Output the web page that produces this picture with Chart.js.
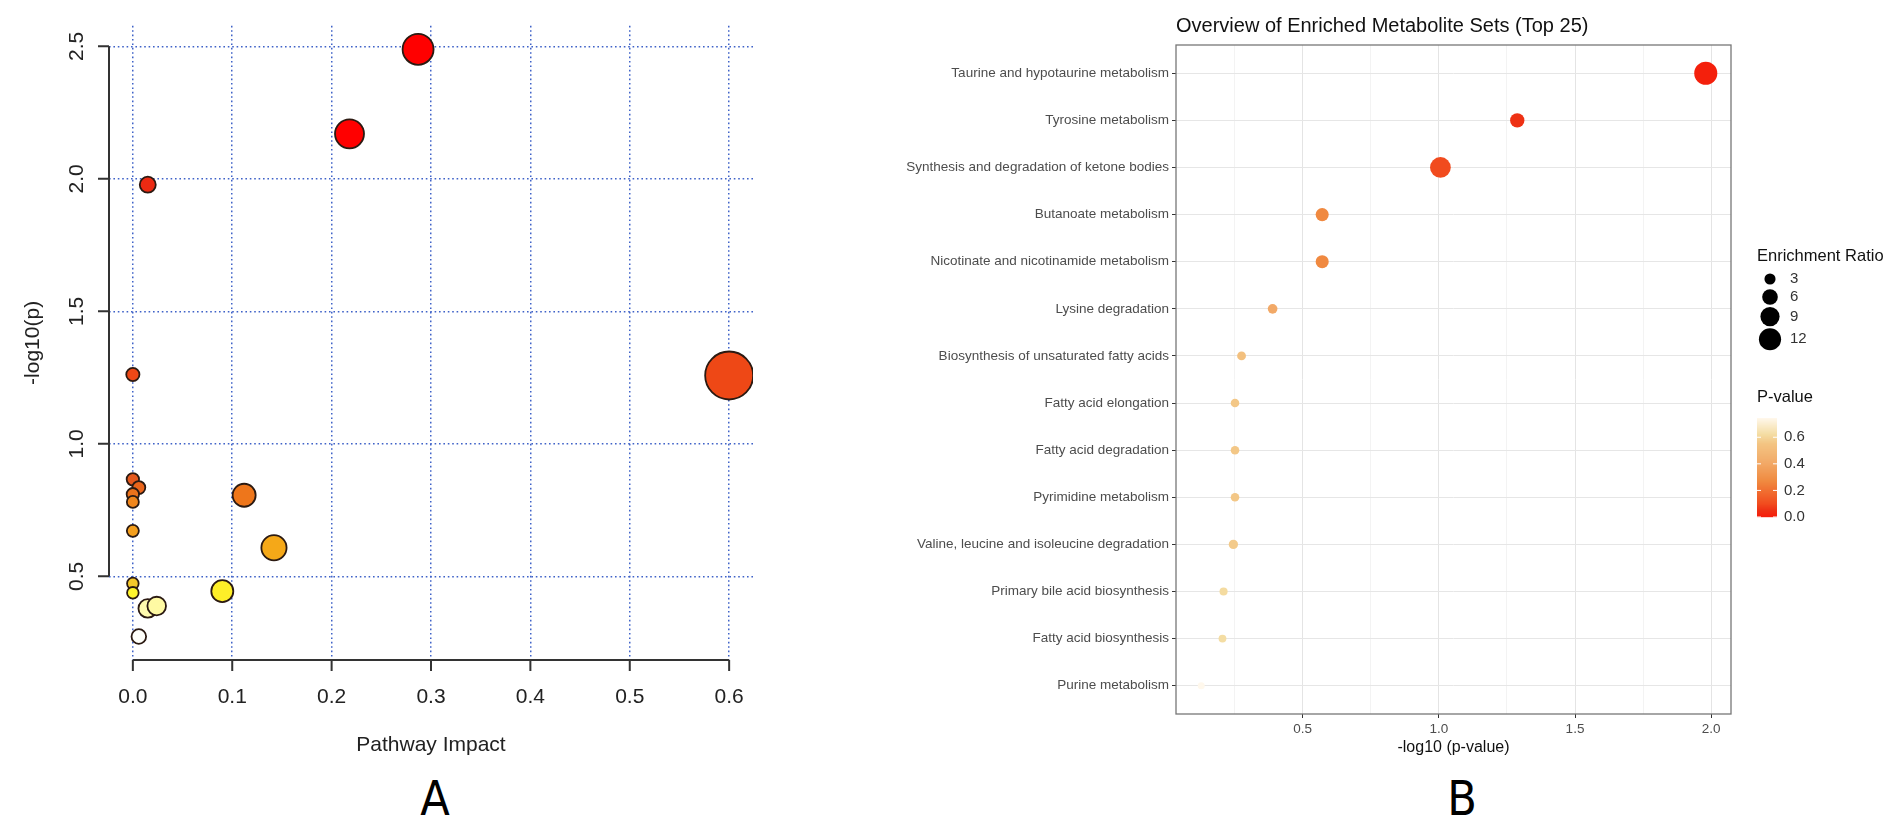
<!DOCTYPE html>
<html><head><meta charset="utf-8">
<script src="https://cdn.jsdelivr.net/npm/chart.js@4.4.1/dist/chart.umd.min.js"></script>
<style>
html,body{margin:0;padding:0;background:#fff;width:1902px;height:825px;overflow:hidden;}
canvas{position:absolute;}
#cA{left:0;top:0;}
#cB{left:880px;top:0;}
.lab{position:absolute;font-family:"Liberation Sans Narrow","DejaVu Sans Condensed","Liberation Sans",sans-serif;font-size:48px;color:#000;transform:translate(-50%,-50%);line-height:1;}
</style></head><body>
<canvas id="cA" width="800" height="770"></canvas>
<canvas id="cB" width="1022" height="770"></canvas>
<div class="lab" style="left:435px;top:798px">A</div>
<div class="lab" style="left:1462px;top:798px">B</div>
<script>
// ---------- Panel A data ----------
const pathwayImpact = [0.287, 0.218, 0.015, 0.0, 0.600, 0.0, 0.006, 0.0, 0.112, 0.0, 0.0, 0.142, 0.0, 0.0, 0.090, 0.015, 0.024, 0.006];
const negLogP       = [2.489, 2.170, 1.978, 1.262, 1.258, 0.866, 0.835, 0.810, 0.806, 0.781, 0.672, 0.608, 0.473, 0.438, 0.444, 0.379, 0.388, 0.273];
const circleSize    = [15.5, 14.5, 8.0, 6.6, 24.0, 6.2, 6.5, 6.2, 11.5, 6.0, 6.0, 12.6, 5.8, 5.8, 11.0, 9.3, 9.3, 7.3];
const impactTicks = [0, 0.1, 0.2, 0.3, 0.4, 0.5, 0.6];
const logPTicks = [0.5, 1.0, 1.5, 2.0, 2.5];

// ---------- Panel B data ----------
const metaboliteSets = ['Taurine and hypotaurine metabolism','Tyrosine metabolism','Synthesis and degradation of ketone bodies','Butanoate metabolism','Nicotinate and nicotinamide metabolism','Lysine degradation','Biosynthesis of unsaturated fatty acids','Fatty acid elongation','Fatty acid degradation','Pyrimidine metabolism','Valine, leucine and isoleucine degradation','Primary bile acid biosynthesis','Fatty acid biosynthesis','Purine metabolism'];
const setNegLogP = [1.980, 1.288, 1.006, 0.572, 0.572, 0.390, 0.276, 0.252, 0.252, 0.252, 0.246, 0.210, 0.206, 0.128];
const enrichmentRatio = [13.0, 5.0, 10.5, 4.2, 4.2, 2.3, 1.9, 1.8, 1.8, 1.8, 2.1, 1.6, 1.5, 1.2];
const setPValue = setNegLogP.map(v => Math.pow(10, -v));
const xTicksB = [0.5, 1.0, 1.5, 2.0];
const xMinorB = [0.25, 0.75, 1.25, 1.75];
const erBreaks = [3, 6, 9, 12];
const pBreaks = [0.0, 0.2, 0.4, 0.6];

// ---------- colour scales ----------
function interp(stops, v){
  if (v <= stops[0][0]) return stops[0].slice(1);
  for (let i=1;i<stops.length;i++){
    if (v <= stops[i][0]){
      const a=stops[i-1], b=stops[i], t=(v-a[0])/(b[0]-a[0]);
      return [1,2,3].map(k=>Math.round(a[k]+(b[k]-a[k])*t));
    }
  }
  return stops[stops.length-1].slice(1);
}
const heatStops = [[0.27,255,255,252],[0.385,255,250,170],[0.44,255,245,40],[0.47,246,202,42],[0.61,245,168,24],[0.68,244,158,30],[0.79,240,132,28],[0.82,236,106,26],[0.87,228,88,30],[1.26,238,72,22],[1.98,236,42,18],[2.17,255,0,0],[3,255,0,0]];
const heat = v => { const c = interp(heatStops, v); return `rgb(${c[0]},${c[1]},${c[2]})`; };
const pStops = [[0,246,28,10],[0.05,238,48,20],[0.1,241,76,30],[0.27,240,138,64],[0.41,242,170,104],[0.55,243,196,130],[0.62,244,220,162],[0.745,255,248,236]];
const pColor = p => { const c = interp(pStops, p); return `rgb(${c[0]},${c[1]},${c[2]})`; };
const erRadius = er => 3.2*Math.sqrt(er);

const FONT = '"Liberation Sans", Arial, sans-serif';

// ---------- Panel A ----------
const xr = Math.max(...pathwayImpact)-Math.min(...pathwayImpact);
const yr = Math.max(...negLogP)-Math.min(...negLogP);
const axesA = {
  id:'axesA',
  beforeDatasetsDraw(chart){
    const {ctx, chartArea:a, scales:{x,y}} = chart;
    ctx.save();
    ctx.strokeStyle='#333'; ctx.lineWidth=2;
    ctx.beginPath();
    const x0=x.getPixelForValue(impactTicks[0]), x1=x.getPixelForValue(impactTicks[impactTicks.length-1]);
    ctx.moveTo(x0,a.bottom); ctx.lineTo(x1,a.bottom);
    impactTicks.forEach(v=>{const px=x.getPixelForValue(v); ctx.moveTo(px,a.bottom); ctx.lineTo(px,a.bottom+11);});
    const y0=y.getPixelForValue(logPTicks[0]), y1=y.getPixelForValue(logPTicks[logPTicks.length-1]);
    ctx.moveTo(a.left,y0); ctx.lineTo(a.left,y1);
    logPTicks.forEach(v=>{const py=y.getPixelForValue(v); ctx.moveTo(a.left,py); ctx.lineTo(a.left-11,py);});
    ctx.stroke();
    ctx.fillStyle='#222'; ctx.textAlign='center'; ctx.textBaseline='middle';
    ctx.font='21px '+FONT;
    impactTicks.forEach(v=>ctx.fillText(v.toFixed(1), x.getPixelForValue(v), a.bottom+37));
    logPTicks.forEach(v=>{ctx.save(); ctx.translate(a.left-32, y.getPixelForValue(v)); ctx.rotate(-Math.PI/2); ctx.fillText(v.toFixed(1),0,0); ctx.restore();});
    ctx.fillText('Pathway Impact', (a.left+a.right)/2, a.bottom+85);
    ctx.save(); ctx.translate(33,(a.top+a.bottom)/2); ctx.rotate(-Math.PI/2); ctx.fillText('-log10(p)',0,0); ctx.restore();
    ctx.restore();
  }
};
new Chart(document.getElementById('cA'), {
  type:'scatter',
  data:{datasets:[{
    data: pathwayImpact.map((v,i)=>({x:v, y:negLogP[i]})),
    pointRadius: c=>circleSize[c.dataIndex],
    pointHoverRadius: c=>circleSize[c.dataIndex],
    backgroundColor: c=>heat(negLogP[c.dataIndex]),
    borderColor:'#2b1a12', borderWidth:1.8
  }]},
  options:{
    responsive:false, animation:false,
    layout:{padding:{top:15, right:47, left:0, bottom:0}},
    plugins:{legend:{display:false}, tooltip:{enabled:false}},
    scales:{
      x:{type:'linear', min:Math.min(...pathwayImpact)-0.04*xr, max:Math.max(...pathwayImpact)+0.04*xr,
         afterBuildTicks:s=>{s.ticks=impactTicks.map(v=>({value:v}));},
         afterFit:s=>{s.height=110;},
         ticks:{display:false},
         grid:{color:'#3f62c8', lineWidth:1.5, drawTicks:false},
         border:{display:false, dash:[1.6,2.8]}},
      y:{type:'linear', min:Math.min(...negLogP)-0.04*yr, max:Math.max(...negLogP)+0.04*yr,
         afterBuildTicks:s=>{s.ticks=logPTicks.map(v=>({value:v}));},
         afterFit:s=>{s.width=109;},
         ticks:{display:false},
         grid:{color:'#3f62c8', lineWidth:1.5, drawTicks:false},
         border:{display:false, dash:[1.6,2.8]}}
    }
  },
  plugins:[axesA]
});

// ---------- Panel B ----------
const xrB = Math.max(...setNegLogP)-Math.min(...setNegLogP);
const decorB = {
  id:'decorB',
  beforeDatasetsDraw(chart){
    const {ctx, chartArea:a} = chart;
    ctx.save();
    ctx.strokeStyle='#777'; ctx.lineWidth=1.3;
    ctx.strokeRect(a.left, a.top, a.right-a.left, a.bottom-a.top);
    ctx.restore();
  },
  afterDraw(chart){
    const {ctx, chartArea:a} = chart;
    ctx.save();
    ctx.fillStyle='#111'; ctx.textAlign='left'; ctx.textBaseline='alphabetic';
    ctx.font='20px '+FONT;
    ctx.fillText('Overview of Enriched Metabolite Sets (Top 25)', a.left, a.top-13);
    ctx.textAlign='center'; ctx.textBaseline='middle'; ctx.font='16px '+FONT;
    ctx.fillText('-log10 (p-value)', (a.left+a.right)/2, a.bottom+34);
    // legend: enrichment ratio
    const lx = a.right+26;
    ctx.textAlign='left';
    ctx.font='16.5px '+FONT;
    ctx.fillText('Enrichment Ratio', lx, 256);
    let cy = 279, prevH = null;
    erBreaks.forEach(er=>{
      const r = erRadius(er), h = Math.max(18, 2*r+2);
      if (prevH!==null) cy += (prevH+h)/2;
      ctx.beginPath(); ctx.arc(lx+13, cy, r, 0, Math.PI*2); ctx.fillStyle='#000'; ctx.fill();
      ctx.fillStyle='#333'; ctx.font='15px '+FONT; ctx.fillText(String(er), lx+33, cy);
      prevH = h;
    });
    // legend: p-value colourbar
    ctx.fillStyle='#111'; ctx.font='16.5px '+FONT;
    ctx.fillText('P-value', lx, 397);
    const pMax = Math.max(...setPValue);
    const bTop=418, bBot=517, bW=20, bH=bBot-bTop;
    for (let k=0;k<bH;k++){
      const p = (bH-k-0.5)/bH*pMax;
      ctx.fillStyle=pColor(p); ctx.fillRect(lx, bTop+k, bW, 1.2);
    }
    ctx.font='15px '+FONT;
    pBreaks.forEach(p=>{
      const py = bBot - p/pMax*bH;
      ctx.strokeStyle='#fff'; ctx.lineWidth=1;
      ctx.beginPath(); ctx.moveTo(lx,py); ctx.lineTo(lx+4,py); ctx.moveTo(lx+bW-4,py); ctx.lineTo(lx+bW,py); ctx.stroke();
      ctx.fillStyle='#333'; ctx.fillText(p.toFixed(1), lx+27, py);
    });
    ctx.restore();
  }
};
new Chart(document.getElementById('cB'), {
  type:'scatter',
  data:{datasets:[{
    data: setNegLogP.map((v,i)=>({x:v, y:i})),
    pointRadius: c=>erRadius(enrichmentRatio[c.dataIndex]),
    pointHoverRadius: c=>erRadius(enrichmentRatio[c.dataIndex]),
    backgroundColor: c=>pColor(setPValue[c.dataIndex]),
    borderWidth:0
  }]},
  options:{
    responsive:false, animation:false,
    layout:{padding:{top:45, right:171, left:0, bottom:0}},
    plugins:{legend:{display:false}, tooltip:{enabled:false}},
    scales:{
      x:{type:'linear', min:Math.min(...setNegLogP)-0.05*xrB, max:Math.max(...setNegLogP)+0.05*xrB,
         afterBuildTicks:s=>{s.ticks=[...xMinorB, ...xTicksB].sort((p,q)=>p-q).map(v=>({value:v}));},
         afterFit:s=>{s.height=56;},
         ticks:{autoSkip:false, maxRotation:0, padding:3, color:'#4d4d4d', font:{family:FONT, size:13.5},
                callback:v=>xTicksB.includes(v)?v.toFixed(1):''},
         grid:{color:c=>(c.tick && xTicksB.includes(c.tick.value))?'#e4e4e4':'#f3f3f3', lineWidth:1,
               tickColor:c=>(c.tick && xTicksB.includes(c.tick.value))?'#333':'rgba(0,0,0,0)', tickLength:4},
         border:{display:false}},
      y:{type:'linear', reverse:true, min:-0.6, max:metaboliteSets.length-0.4,
         afterBuildTicks:s=>{s.ticks=metaboliteSets.map((n,i)=>({value:i}));},
         afterFit:s=>{s.width=296;},
         ticks:{autoSkip:false, padding:3, color:'#4d4d4d', font:{family:FONT, size:13.5},
                callback:v=>metaboliteSets[v]},
         grid:{color:'#e6e6e6', lineWidth:1, tickColor:'#333', tickLength:4},
         border:{display:false}}
    }
  },
  plugins:[decorB]
});
</script>
</body></html>
